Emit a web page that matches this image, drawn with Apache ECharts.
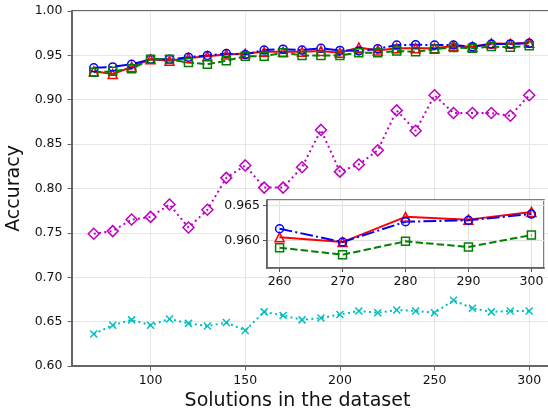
<!DOCTYPE html>
<html>
<head>
<meta charset="utf-8">
<script src="https://cdn.jsdelivr.net/npm/echarts@6/dist/echarts.min.js"></script>
<style>
  html, body { margin: 0; padding: 0; background: #fff; }
  #chart { width: 548px; height: 419px; }
</style>
</head>
<body>
<div id="chart"></div>
<script>
    var solutions = [70, 80, 90, 100, 110, 120, 130, 140, 150, 160, 170, 180,
                     190, 200, 210, 220, 230, 240, 250, 260, 270, 280, 290, 300];
    var redAcc = [0.932, 0.929, 0.937, 0.9455, 0.944, 0.947, 0.949, 0.951, 0.952, 0.954, 0.954, 0.954,
                  0.955, 0.953, 0.959, 0.9556, 0.958, 0.958, 0.958, 0.9605, 0.9598, 0.9634, 0.9630, 0.9641];
    var blueAcc = [0.936, 0.937, 0.940, 0.9455, 0.9455, 0.948, 0.950, 0.952, 0.951, 0.956, 0.957, 0.956,
                   0.958, 0.9556, 0.955, 0.9575, 0.9616, 0.962, 0.9616, 0.9617, 0.9598, 0.9627, 0.9629, 0.9638];
    var greenAcc = [0.931, 0.932, 0.935, 0.9455, 0.9455, 0.942, 0.940, 0.944, 0.949, 0.949, 0.953, 0.950,
                    0.950, 0.950, 0.953, 0.953, 0.955, 0.954, 0.9568, 0.9590, 0.9580, 0.9599, 0.9591, 0.9608];
    var magentaAcc = [0.749, 0.752, 0.765, 0.768, 0.782, 0.756, 0.776, 0.812, 0.826, 0.801, 0.801, 0.824,
                      0.866, 0.819, 0.827, 0.843, 0.888, 0.865, 0.905, 0.885, 0.885, 0.885, 0.882, 0.905];
    var cyanAcc = [0.636, 0.646, 0.652, 0.646, 0.653, 0.648, 0.645, 0.649, 0.640, 0.661, 0.657, 0.652,
                   0.654, 0.658, 0.662, 0.660, 0.663, 0.662, 0.660, 0.674, 0.665, 0.661, 0.662, 0.662];
    var insetFrom = 260;

    var FONT = 'DejaVu Sans';
    var xMark = 'path://M0,0L10,10M10,0L0,10';

    function pairs(ys, from) {
        var out = [];
        for (var i = 0; i < solutions.length; i++) {
            if (from == null || solutions[i] >= from) out.push([solutions[i], ys[i]]);
        }
        return out;
    }

    var styles = [
        {data: redAcc, color: '#ff0000', dash: 'solid', symbol: 'triangle', size: 9},
        {data: blueAcc, color: '#0000ff', dash: [12.8, 3.2, 2, 3.2], symbol: 'circle', size: 8},
        {data: greenAcc, color: '#008000', dash: [7.4, 3.2], symbol: 'rect', size: 8},
        {data: magentaAcc, color: '#c000c0', dash: [2, 3.3], symbol: 'diamond', size: 11},
        {data: cyanAcc, color: '#00bfbf', dash: [2, 3.3], symbol: xMark, size: 7}
    ];

    var series = [];
    styles.forEach(function (s) {
        series.push({
            type: 'line', xAxisIndex: 0, yAxisIndex: 0, z: 2,
            data: pairs(s.data),
            symbol: s.symbol, symbolSize: s.size, showAllSymbol: true,
            lineStyle: {color: s.color, width: 2, type: s.dash},
            itemStyle: {color: 'transparent', borderColor: s.color, borderWidth: 1.5},
            animation: false
        });
    });
    // inset only shows the top three
    styles.slice(0, 3).forEach(function (s) {
        series.push({
            type: 'line', xAxisIndex: 1, yAxisIndex: 1, z: 6,
            data: pairs(s.data, insetFrom),
            symbol: s.symbol, symbolSize: s.size, showAllSymbol: true,
            lineStyle: {color: s.color, width: 2, type: s.dash},
            itemStyle: {color: 'transparent', borderColor: s.color, borderWidth: 1.5},
            animation: false
        });
    });

    var tickLabel = {fontFamily: FONT, fontSize: 12.5, color: '#111'};

    var myChart = echarts.init(document.getElementById('chart'));
    var option = {
        animation: false,
        grid: [
            {left: 72, top: 11, width: 479, height: 355, show: true, outerBoundsMode: 'none',
             borderColor: '#333', borderWidth: 1.5, backgroundColor: 'transparent'},
            {left: 267, top: 200, width: 277, height: 68, show: true, z: 3, outerBoundsMode: 'none',
             borderColor: '#555', borderWidth: 1.5, backgroundColor: '#fff'}
        ],
        xAxis: [
            {
                type: 'value', gridIndex: 0, min: 58.5, max: 311.5,
                name: 'Solutions in the dataset', nameLocation: 'middle', nameGap: 24,
                nameTextStyle: {fontFamily: FONT, fontSize: 19, color: '#111', padding: [0, 28, 0, 0]},
                axisLine: {lineStyle: {color: '#666', width: 2}},
                axisTick: {length: 4.5, lineStyle: {color: '#666'}},
                axisLabel: Object.assign({margin: 8, showMinLabel: false, showMaxLabel: false}, tickLabel),
                splitLine: {lineStyle: {color: '#e6e6e6'}}
            },
            {
                type: 'value', gridIndex: 1, min: 258, max: 302, z: 4,
                axisLine: {lineStyle: {color: '#555', width: 1.5}},
                axisTick: {length: 4, lineStyle: {color: '#555'}},
                axisLabel: Object.assign({margin: 7, showMinLabel: false, showMaxLabel: false}, tickLabel),
                splitLine: {lineStyle: {color: '#e0e0e0'}}
            }
        ],
        yAxis: [
            {
                type: 'value', gridIndex: 0, min: 0.6, max: 1.0, interval: 0.05,
                name: 'Accuracy', nameLocation: 'middle', nameGap: 46,
                nameTextStyle: {fontFamily: FONT, fontSize: 19, color: '#111'},
                axisLine: {show: true, lineStyle: {color: '#666', width: 2}},
                axisTick: {show: true, length: 4.5, lineStyle: {color: '#666'}},
                axisLabel: Object.assign({margin: 9.5, formatter: function (v) { return v.toFixed(2); }}, tickLabel),
                splitLine: {lineStyle: {color: '#e6e6e6'}}
            },
            {
                type: 'value', gridIndex: 1, min: 0.9561, max: 0.9658, splitNumber: 2, z: 4,
                axisLine: {show: true, lineStyle: {color: '#555', width: 1.5}},
                axisTick: {show: true, length: 4, lineStyle: {color: '#555'}},
                axisLabel: Object.assign({margin: 7, showMinLabel: false, showMaxLabel: false,
                    formatter: function (v) { return v.toFixed(3); }}, tickLabel),
                splitLine: {lineStyle: {color: '#e0e0e0'}}
            }
        ],
        series: series
    };
    myChart.setOption(option);
</script>
</body>
</html>
